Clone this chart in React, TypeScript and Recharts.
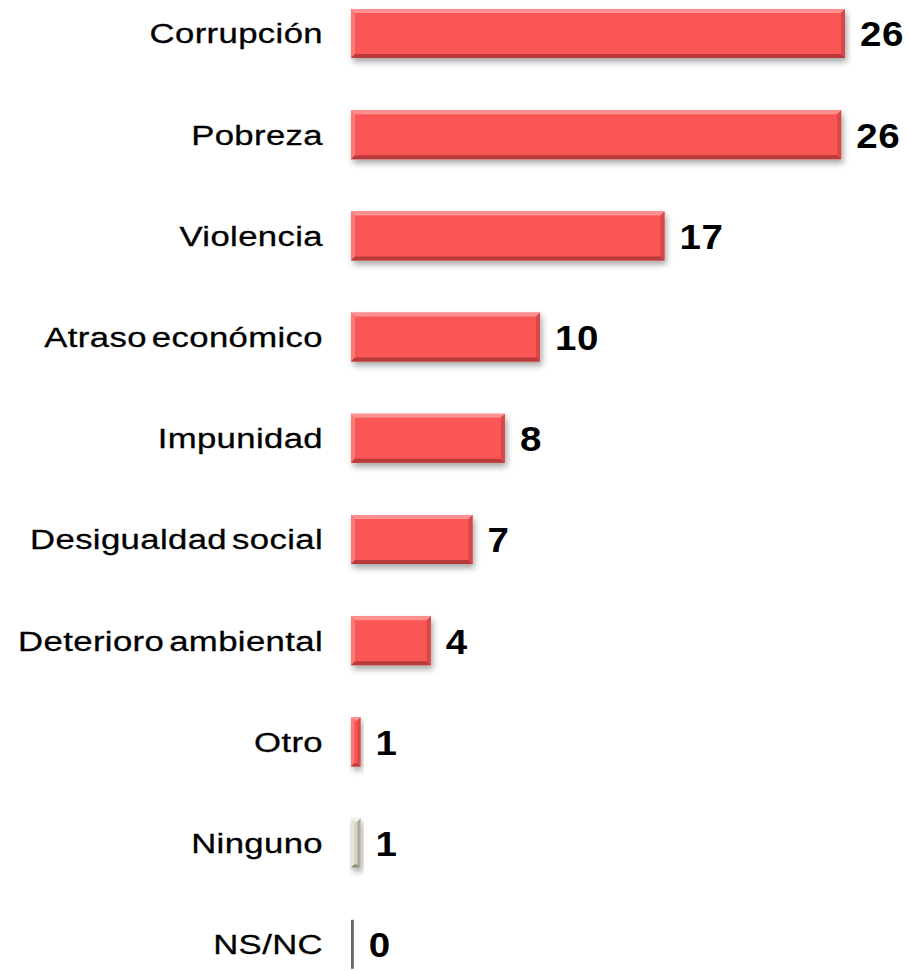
import React from "react";
import { BarChart, Bar, XAxis, YAxis, LabelList, Cell } from "recharts";

const categories = [
  "Corrupción",
  "Pobreza",
  "Violencia",
  "Atraso económico",
  "Impunidad",
  "Desigualdad social",
  "Deterioro ambiental",
  "Otro",
  "Ninguno",
  "NS/NC",
];
const values = [26.0, 25.8, 16.5, 9.95, 8.1, 6.4, 4.2, 0.5, 0.5, 0.15];
const valueLabels = ["26", "26", "17", "10", "8", "7", "4", "1", "1", "0"];
const barKinds = ["red", "red", "red", "red", "red", "red", "red", "red", "beige", "grey"];

const palette: Record<string, { main: string; light: string; dark: string; side: string }> = {
  red: { main: "#FA5656", light: "#FF9090", dark: "#B83A3A", side: "#D84848" },
  beige: { main: "#D8D5C2", light: "#F2F0E4", dark: "#8E8C7C", side: "#AEAB99" },
  grey: { main: "#6A6A6A", light: "#8A8A8A", dark: "#4A4A4A", side: "#5A5A5A" },
};

const data = categories.map((name, i) => ({
  name,
  value: values[i],
  label: valueLabels[i],
  kind: barKinds[i],
}));

const BevelBar = (props: any) => {
  const { x, y, width, height, index } = props;
  if (width == null || width <= 0) return null;
  const c = palette[data[index].kind];
  const fid = `sh${index}`;
  if (data[index].kind === "grey") {
    return <rect x={x} y={y} width={width} height={height} fill={c.main} />;
  }
  const b = Math.min(4, width / 3);
  const x2 = x + width;
  const y2 = y + height;
  return (
    <g>
      <defs>
        <filter id={fid} x="-20%" y="-20%" width="150%" height="160%">
          <feDropShadow dx="2" dy="4" stdDeviation="3" floodColor="#000" floodOpacity="0.35" />
        </filter>
      </defs>
      <rect x={x} y={y} width={width} height={height} fill={c.main} filter={`url(#${fid})`} />
      <polygon points={`${x},${y} ${x2},${y} ${x2 - b},${y + b} ${x + b},${y + b}`} fill={c.light} />
      <polygon points={`${x},${y} ${x + b},${y + b} ${x + b},${y2 - b} ${x},${y2}`} fill={c.light} opacity={0.6} />
      <polygon points={`${x2},${y} ${x2},${y2} ${x2 - b},${y2 - b} ${x2 - b},${y + b}`} fill={c.side} />
      <polygon points={`${x},${y2} ${x + b},${y2 - b} ${x2 - b},${y2 - b} ${x2},${y2}`} fill={c.dark} />
    </g>
  );
};

const CategoryTick = (props: any) => {
  const { x, y, payload } = props;
  return (
    <text
      transform={`translate(${x},${y}) scale(1.24,1)`}
      x={0}
      y={0}
      textAnchor="end"
      dominantBaseline="central"
      fontFamily="'Liberation Sans', Arial, sans-serif"
      fontSize={28}
      letterSpacing={0.3}
      wordSpacing={-4}
      stroke="#000"
      strokeWidth={0.3}
      fill="#000"
    >
      {payload.value}
    </text>
  );
};

const ValueLabel = (props: any) => {
  const { x, y, width, height, index } = props;
  const lx = x + width + 15;
  const ly = y + height / 2 + 1;
  return (
    <text
      transform={`translate(${lx},${ly}) scale(1.1,1)`}
      x={0}
      y={0}
      dominantBaseline="central"
      fontFamily="'Liberation Sans', Arial, sans-serif"
      fontWeight="bold"
      fontSize={35}
      letterSpacing={0.5}
      fill="#000"
    >
      {data[index].label}
    </text>
  );
};

export default function App() {
  return (
    <div
      style={{
        position: "absolute",
        left: 0,
        top: 0,
        width: 908,
        height: 971,
        overflow: "hidden",
        background: "#fff",
      }}
    >
      <div style={{ marginTop: -17 }}>
        <BarChart
          width={908}
          height={1012}
          data={data}
          layout="vertical"
          margin={{ top: 0, right: 25, bottom: 0, left: 0 }}
          barCategoryGap={0}
        >
          <XAxis type="number" domain={[0, 28]} hide />
          <YAxis
            type="category"
            dataKey="name"
            width={351}
            axisLine={false}
            tickLine={false}
            tickSize={0}
            tickMargin={28}
            tick={<CategoryTick />}
            interval={0}
          />
          <Bar dataKey="value" barSize={49} shape={<BevelBar />} isAnimationActive={false}>
            {data.map((d, i) => (
              <Cell key={i} fill={palette[d.kind].main} />
            ))}
            <LabelList dataKey="label" content={<ValueLabel />} />
          </Bar>
        </BarChart>
      </div>
    </div>
  );
}
